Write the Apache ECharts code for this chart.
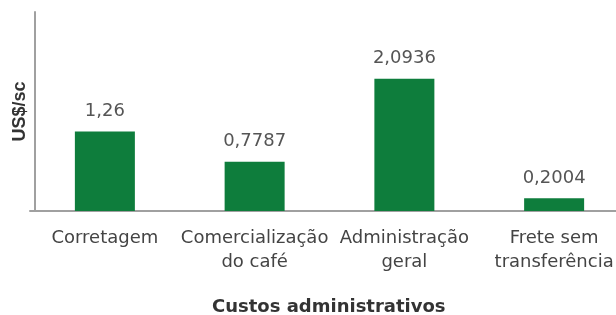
<!DOCTYPE html>
<html>
<head>
<meta charset="utf-8">
<script src="https://cdn.jsdelivr.net/npm/echarts@6/dist/echarts.min.js"></script>
<style>html,body{margin:0;padding:0;background:#fff}#c{width:616px;height:315px}</style>
</head>
<body>
<div id="c"></div>
<script>
const categories = ['Corretagem', 'Comercialização\ndo café', 'Administração\ngeral', 'Frete sem\ntransferência'];
const values = [1.26, 0.7787, 2.0936, 0.2004];
const valueLabels = ['1,26', '0,7787', '2,0936', '0,2004'];
const yAxisName = 'US$/sc';
const xAxisName = 'Custos administrativos';

const chart = echarts.init(document.getElementById('c'), null, {renderer: 'canvas'});
chart.setOption({
  animation: false,
  backgroundColor: '#ffffff',
  title: {
    text: xAxisName,
    left: 207,
    top: 293,
    textStyle: {fontFamily: 'DejaVu Sans', fontSize: 18, fontWeight: 'bold', color: '#333'}
  },
  grid: {left: 30, width: 599, top: 12, height: 199, containLabel: false, outerBoundsMode: 'none'},
  xAxis: {
    type: 'category',
    data: categories,
    axisLine: {show: true, lineStyle: {color: '#a0a0a0', width: 2}},
    axisTick: {show: false},
    axisLabel: {interval: 0, margin: 15, fontFamily: 'DejaVu Sans', fontSize: 18, lineHeight: 24, color: '#444'}
  },
  yAxis: {
    type: 'value',
    min: 0,
    max: 3.15,
    offset: -5,
    name: yAxisName,
    nameLocation: 'middle',
    nameRotate: 90,
    nameGap: 6,
    nameTextStyle: {fontFamily: 'Liberation Sans', fontSize: 18, fontWeight: 'bold', color: '#333'},
    axisLine: {show: true, lineStyle: {color: '#a0a0a0', width: 2}},
    axisTick: {show: false},
    axisLabel: {show: false},
    splitLine: {show: false}
  },
  series: [{
    type: 'bar',
    data: values,
    barWidth: 60,
    itemStyle: {color: '#0e7d3c'},
    label: {
      show: true,
      position: 'top',
      distance: 11,
      fontFamily: 'DejaVu Sans',
      fontSize: 18,
      color: '#555',
      formatter: p => valueLabels[p.dataIndex]
    }
  }]
});
</script>
</body>
</html>
